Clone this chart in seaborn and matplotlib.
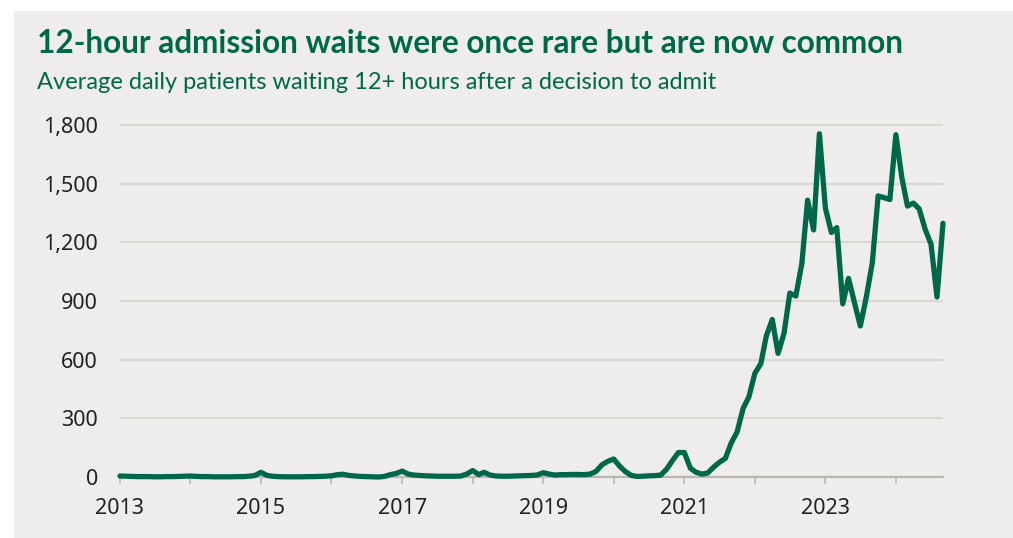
import pandas as pd
import seaborn as sns
import matplotlib.pyplot as plt
from matplotlib.patches import Rectangle
from matplotlib.ticker import FuncFormatter

# Monthly average of patients waiting 12+ hours after decision to admit
months = pd.date_range('2013-01-01', '2024-09-01', freq='MS')
y2013 = [5, 4, 3, 2, 2, 2, 1, 1, 2, 2, 3, 4]
y2014 = [5, 3, 2, 2, 1, 1, 1, 1, 2, 2, 4, 8]
y2015 = [24, 8, 4, 2, 1, 1, 1, 1, 2, 2, 3, 4]
y2016 = [6, 12, 14, 8, 5, 3, 2, 1, 0, 3, 12, 18]
y2017 = [30, 15, 10, 8, 6, 5, 4, 4, 4, 4, 5, 15]
y2018 = [33, 12, 24, 10, 5, 4, 4, 5, 6, 7, 8, 10]
y2019 = [22, 15, 10, 12, 12, 13, 13, 12, 15, 28, 62, 80]
y2020 = [92, 55, 28, 8, 3, 4, 6, 7, 10, 40, 85, 125]
y2021 = [125, 45, 25, 15, 20, 50, 75, 95, 175, 230, 350, 410]
y2022 = [530, 580, 720, 805, 632, 735, 940, 925, 1090, 1415, 1263, 1755]
y2023 = [1375, 1250, 1275, 885, 1015, 890, 772, 920, 1095, 1437, 1428, 1418]
y2024 = [1750, 1530, 1385, 1400, 1370, 1265, 1190, 920, 1297]
waits = y2013 + y2014 + y2015 + y2016 + y2017 + y2018 + y2019 + y2020 + y2021 + y2022 + y2023 + y2024

label_years = ['2013', '2015', '2017', '2019', '2021', '2023']
all_years = [str(y) for y in range(2013, 2025)]

df = pd.DataFrame({'month': months, 'waits': waits})

green = '#00684a'
panel = '#efedeb'

sns.set_theme(style='white')
plt.rcParams['font.family'] = ['Noto Sans', 'DejaVu Sans']

fig = plt.figure(figsize=(10.13, 5.38), dpi=100, facecolor='white')
fig.patches.append(Rectangle((14 / 1013, 0), 1, 1 - 11 / 538, transform=fig.transFigure,
                             facecolor=panel, edgecolor='none', zorder=-10))

ax = fig.add_axes([120 / 1013, 1 - 477 / 538, (943 - 120) / 1013, (477 - 119) / 538])
ax.set_facecolor(panel)

sns.lineplot(data=df, x='month', y='waits', color=green, linewidth=3.8, ax=ax,
             solid_joinstyle='round', solid_capstyle='round', zorder=3, clip_on=False)

ax.set_xlim(months[0], months[-1])
ax.set_ylim(0, 1830)
ax.set_yticks([0, 300, 600, 900, 1200, 1500, 1800])
ax.yaxis.set_major_formatter(FuncFormatter(lambda v, p: f'{int(v):,}'))
ax.set_xticks(pd.to_datetime(label_years), labels=label_years)
ax.set_xticks(pd.to_datetime(all_years), minor=True)

ax.grid(axis='y', color='#dad8d5', linewidth=1.6)
ax.set_axisbelow(True)
for s in ['top', 'right', 'left']:
    ax.spines[s].set_visible(False)
ax.spines['bottom'].set_color('#b9b7b4')
ax.spines['bottom'].set_linewidth(1.6)

ax.tick_params(axis='y', length=0, pad=16, labelsize=15.5, labelcolor='#222222')
ax.tick_params(axis='x', which='both', length=5, width=1.2, color='#b9b7b4',
               direction='out', bottom=True)
ax.tick_params(axis='x', which='major', pad=10, labelsize=15.5, labelcolor='#222222')
ax.set_xlabel('')
ax.set_ylabel('')

fig.text(37 / 1013, 1 - 53 / 538, '12-hour admission waits were once rare but are now common',
         family=['Lato', 'DejaVu Sans'], fontsize=22.7, fontweight='bold', color=green,
         va='baseline', ha='left')
fig.text(37 / 1013, 1 - 89 / 538, 'Average daily patients waiting 12+ hours after a decision to admit',
         family=['Lato', 'DejaVu Sans'], fontsize=17, color=green,
         va='baseline', ha='left')

fig.savefig('out.png', dpi=100, facecolor='white')
